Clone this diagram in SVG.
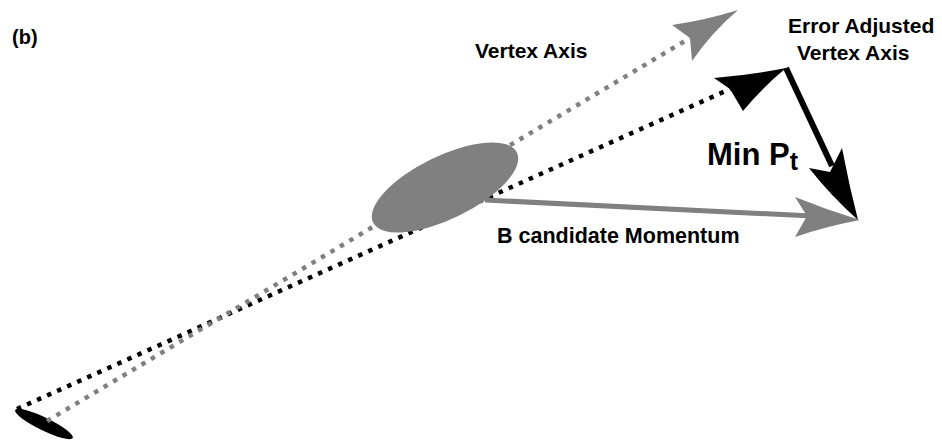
<svg xmlns="http://www.w3.org/2000/svg" width="942" height="441" viewBox="0 0 942 441">
  <style>
    .lbl { font-family: "Liberation Sans", Arial, sans-serif; font-weight: bold; fill: #000; }
    .dotg { fill: none; stroke: #808080; stroke-width: 4.5; stroke-dasharray: 4.5 6.5; }
    .dotk { fill: none; stroke: #000; stroke-width: 4.5; stroke-dasharray: 4.5 6.5; }
    .gray { fill: #808080; }
    .blk { fill: #000; }
  </style>
  <rect width="942" height="441" fill="#fff"/>
  <g id="label-b"><text class="lbl" x="12" y="44" font-size="20">(b)</text></g>

  <g id="origin-vertex"><ellipse class="blk" cx="44" cy="424" rx="32" ry="6.5" transform="rotate(26 44 424)"/></g>

  <g id="connectors">
    <line class="dotk" x1="17" y1="409" x2="730" y2="89"/>
    <line class="dotg" x1="47" y1="421" x2="690" y2="38"/>
  </g>

  <g id="b-vertex"><ellipse class="gray" cx="445" cy="187.5" rx="80" ry="31.5" transform="rotate(-26 445 187.5)"/></g>

  <g id="arrows">
    <path class="gray" d="M738,10 Q706,20 672,25 L690,38 L692,61 Q712,32 738,10 Z"/>
    <path class="blk" d="M786,68 Q751,75 714,78 L730,89 L743,111 Q763,87 786,68 Z"/>
    <line x1="786" y1="68" x2="832" y2="166" stroke="#000" stroke-width="6"/>
    <path class="blk" d="M858,220 Q831,196 809,168 L830,172 L842,148 Q849,185 858,220 Z"/>
    <line x1="485" y1="200" x2="812" y2="216" stroke="#808080" stroke-width="5"/>
    <path class="gray" d="M860,220 Q827,210 795,197 L807,216 L795,237 Q827,226 860,220 Z"/>
  </g>

  <g id="label-vertex-axis"><text class="lbl" x="475" y="58" font-size="21">Vertex Axis</text></g>
  <g id="label-error-adjusted">
    <text class="lbl" x="788" y="33" font-size="21">Error Adjusted</text>
    <text class="lbl" x="797" y="60" font-size="21">Vertex Axis</text>
  </g>
  <g id="label-min-pt"><text class="lbl" x="707" y="165" font-size="31">Min P<tspan font-size="25" dy="5">t</tspan></text></g>
  <g id="label-momentum"><text class="lbl" x="497" y="243" font-size="21.5">B candidate Momentum</text></g>
</svg>
